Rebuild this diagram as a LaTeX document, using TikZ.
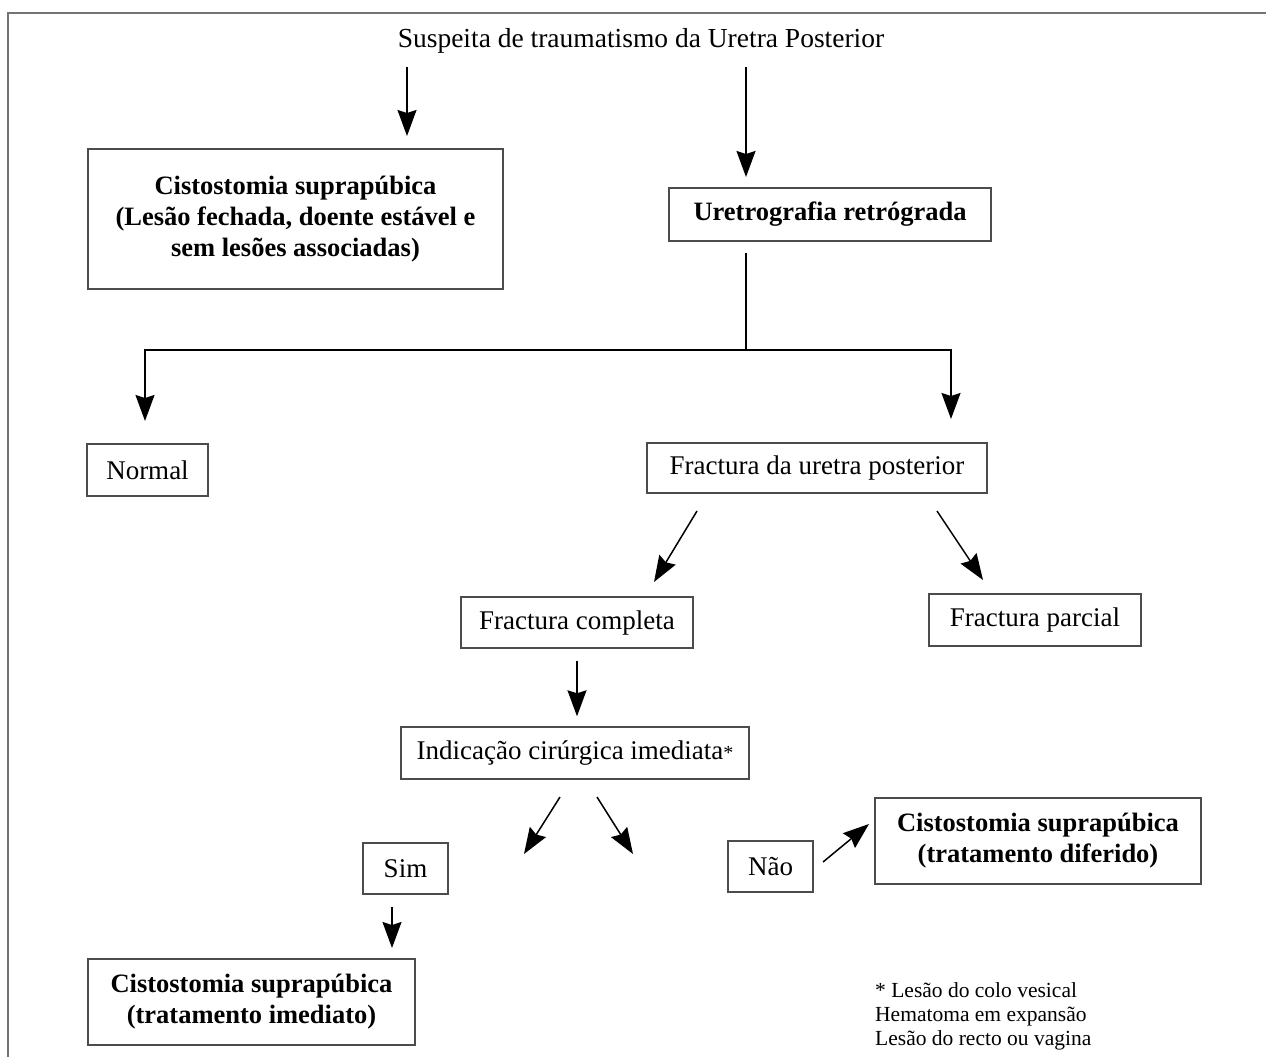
\documentclass[tikz,border=0pt]{standalone}
\usepackage{fontspec}
\setmainfont{Liberation Serif}
\usetikzlibrary{arrows.meta,positioning}

\tikzset{
  stepbox/.style={draw=black!70, line width=1.4pt, align=center, inner sep=0pt,
    font=\fontsize{27}{31}\selectfont},
  boldbox/.style={stepbox, font=\fontsize{26.5}{31}\selectfont\bfseries},
  flow/.style={line width=1.5pt, -{Stealth[length=26pt, width=19pt, inset=3pt]}},
  plainline/.style={line width=1.5pt},
}

\begin{document}
\begin{tikzpicture}[x=1pt, y=-1pt]
  \useasboundingbox (0,0) rectangle (1266,1057);
  % frame
  \draw[black!55, line width=1.5pt] (8,1057) -- (8,13) -- (1266,13);

  \node[font=\fontsize{27.5}{31}\selectfont] (title) at (641,41)
    {Suspeita de traumatismo da Uretra Posterior};

  \node[boldbox, minimum width=415pt, minimum height=140pt] (cistA) at (295.5,219)
    {Cistostomia suprapúbica\\(Lesão fechada, doente estável e\\sem lesões associadas)};
  \node[boldbox, minimum width=322pt, minimum height=53pt] (urg) at (830,214.5)
    {Uretrografia retrógrada};

  \node[stepbox, minimum width=121pt, minimum height=52pt] (normal) at (147.5,470) {Normal};
  \node[stepbox, minimum width=340pt, minimum height=50pt] (fract) at (817,468)
    {Fractura da uretra posterior};
  \node[stepbox, minimum width=232pt, minimum height=51pt] (compl) at (577,622.5)
    {Fractura completa};
  \node[stepbox, minimum width=212pt, minimum height=52pt] (parc) at (1035,620)
    {Fractura parcial};
  \node[stepbox, minimum width=348pt, minimum height=52pt] (indic) at (575,753)
    {Indicação cirúrgica imediata{\fontsize{20}{20}\selectfont *}};
  \node[stepbox, minimum width=85pt, minimum height=51pt] (sim) at (405.5,868.5) {Sim};
  \node[stepbox, minimum width=85pt, minimum height=51pt] (nao) at (770.5,866.5) {Não};
  \node[boldbox, minimum width=327pt, minimum height=86pt] (imed) at (251.5,1002)
    {Cistostomia suprapúbica\\(tratamento imediato)};
  \node[boldbox, minimum width=326pt, minimum height=86pt] (difer) at (1038,841)
    {Cistostomia suprapúbica\\(tratamento diferido)};

  \node[align=left, anchor=north west, inner sep=0pt,
    font=\fontsize{21.5}{24}\selectfont] (nota) at (875,982)
    {* Lesão do colo vesical\\Hematoma em expansão\\Lesão do recto ou vagina};

  % arrows
  \coordinate (t1) at (407,67);   \coordinate (t1e) at (407,136);
  \coordinate (t2) at (746,67);   \coordinate (t2e) at (746,177);
  \draw[flow] (t1) -- (t1e);
  \draw[flow] (t2) -- (t2e);

  \coordinate (split) at (746,350);
  \coordinate (leftend) at (145,421);
  \coordinate (rightend) at (951,419);
  \draw[plainline, shorten <=11pt] (urg.south -| split) -- (split);
  \draw[flow] (split) -| (leftend);
  \draw[flow] (split) -| (rightend);

  \coordinate (f1) at (697,511);  \coordinate (f1e) at (654,582);
  \coordinate (f2) at (937,511);  \coordinate (f2e) at (983,580);
  \draw[flow] (f1) -- (f1e);
  \draw[flow] (f2) -- (f2e);

  \draw[flow, shorten <=12pt, shorten >=10pt] (compl.south) -- (compl.south |- indic.north);

  \coordinate (i1) at (560,797);  \coordinate (i1e) at (524,854);
  \coordinate (i2) at (597,797);  \coordinate (i2e) at (633,854);
  \draw[flow] (i1) -- (i1e);
  \draw[flow] (i2) -- (i2e);

  \coordinate (s1) at (392,907);  \coordinate (s1e) at (392,948);
  \draw[flow] (s1) -- (s1e);

  \coordinate (n1) at (823,862);  \coordinate (n1e) at (869,824);
  \draw[flow] (n1) -- (n1e);
\end{tikzpicture}
\end{document}
